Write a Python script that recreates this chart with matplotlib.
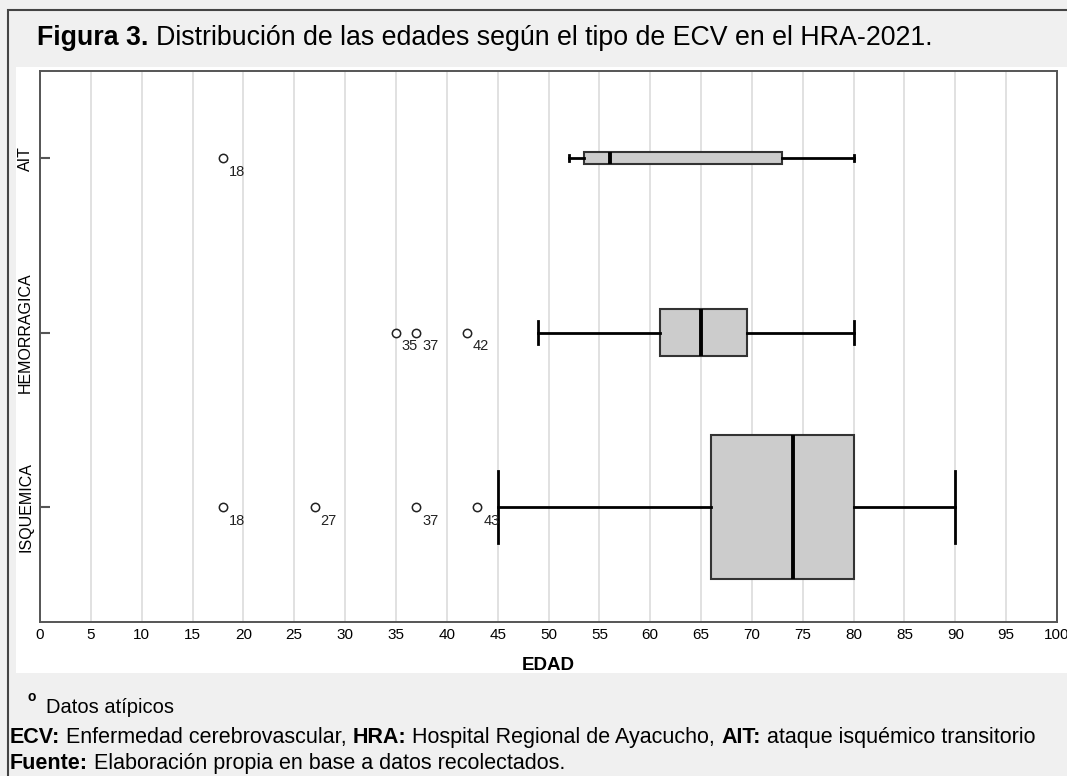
import matplotlib
matplotlib.use("Agg")
import matplotlib.pyplot as plt
from matplotlib.patches import Rectangle

plt.rcParams['font.family'] = ['Liberation Sans', 'DejaVu Sans']

# data
categories = ["ISQUEMICA", "HEMORRAGICA", "AIT"]
whis_lo = [45, 49, 52]
q1 = [66, 61, 53.5]
medians = [74, 65, 56]
q3 = [80, 69.5, 73]
whis_hi = [90, 80, 80]
outliers = [[18, 27, 37, 43], [35, 37, 42], [18]]
outlier_labels = [["18", "27", "37", "43"], ["35", "37", "42"], ["18"]]
box_widths = [0.825, 0.27, 0.069]
x_ticks = list(range(0, 101, 5))

title_runs = [("Figura 3.", True),
              (" Distribución de las edades según el tipo de ECV en el HRA-2021.", False)]
footer_lines = [
    [("ECV:", True), (" Enfermedad cerebrovascular, ", False), ("HRA:", True),
     (" Hospital Regional de Ayacucho, ", False), ("AIT:", True),
     (" ataque isquémico transitorio", False)],
    [("Fuente:", True), (" Elaboración propia en base a datos recolectados.", False)],
]

W, H = 1067, 776
fig = plt.figure(figsize=(W / 100, H / 100), dpi=100)
fig.patch.set_facecolor("#f0f0f0")

# outer frame and white chart panel
fig.patches.append(Rectangle((8 / W, -0.01), 1.0, 1 - 10 / H + 0.01,
                             transform=fig.transFigure, fill=False,
                             edgecolor="#444444", linewidth=1.5, zorder=-2))
fig.patches.append(Rectangle((16 / W, 1 - 673 / H), 1.0, (673 - 67) / H,
                             transform=fig.transFigure, facecolor="white",
                             edgecolor="none", zorder=-1))

ax = fig.add_axes([40 / W, 1 - 622 / H, 1017 / W, 551 / H])
ax.set_facecolor("white")

stats = []
for i in range(len(categories)):
    stats.append(dict(med=medians[i], q1=q1[i], q3=q3[i], whislo=whis_lo[i],
                      whishi=whis_hi[i], fliers=outliers[i], label=categories[i]))

positions = [1, 2, 3]
ax.bxp(stats, positions=positions, widths=box_widths,
       capwidths=[w / 2 for w in box_widths], orientation="horizontal",
       patch_artist=True, showfliers=True,
       boxprops=dict(facecolor="#cccccc", edgecolor="#333333", linewidth=1.5),
       medianprops=dict(color="black", linewidth=2.8),
       whiskerprops=dict(color="black", linewidth=2),
       capprops=dict(color="black", linewidth=2),
       flierprops=dict(marker="o", markersize=6, markerfacecolor="white",
                       markeredgecolor="#222222", markeredgewidth=1.1))

for pos, xs, labs in zip(positions, outliers, outlier_labels):
    for x, lab in zip(xs, labs):
        ax.annotate(lab, (x, pos), xytext=(4.3, -10), textcoords="offset points",
                    ha="left", va="center", fontsize=10.5, color="#222222")

ax.set_xlim(0, 100)
ax.set_ylim(0.34, 3.5)
ax.set_xticks(x_ticks)
ax.set_xticklabels([str(t) for t in x_ticks], fontsize=11)
ax.set_yticks(positions)
ax.set_yticklabels(categories, rotation=90, va="center", fontsize=11.5)
ax.tick_params(axis="x", length=0, pad=4)
ax.tick_params(axis="y", direction="in", length=7, width=1.5, color="#555555", pad=5)
ax.grid(axis="x", color="#dedede", linewidth=1.3)
ax.set_axisbelow(True)
for s in ax.spines.values():
    s.set_color("#555555")
    s.set_linewidth(1.4)
ax.set_xlabel("EDAD", fontsize=13.5, fontweight="bold", labelpad=11)

fig.canvas.draw()
renderer = fig.canvas.get_renderer()


def write_runs(x_px, y_px, runs, size):
    # place bold / normal pieces one after another on a line
    space = 0.278 * size * 100 / 72
    x = x_px
    for txt, bold in runs:
        if txt.startswith(" "):
            x += space
        body = txt.strip()
        t = fig.text(x / W, 1 - y_px / H, body, fontsize=size, va="baseline",
                     ha="left", fontweight="bold" if bold else "normal")
        x = t.get_window_extent(renderer).x1
        if txt.endswith(" "):
            x += space


write_runs(37, 45, title_runs, 19.3)
fig.text(28 / W, 1 - 697 / H, "o", fontsize=10, fontweight="bold", va="center")
fig.text(46 / W, 1 - 713 / H, "Datos atípicos", fontsize=14.5, va="baseline")
write_runs(10, 743, footer_lines[0], 15.5)
write_runs(10, 769, footer_lines[1], 15.5)

fig.savefig("out.png", dpi=100, facecolor=fig.get_facecolor())
